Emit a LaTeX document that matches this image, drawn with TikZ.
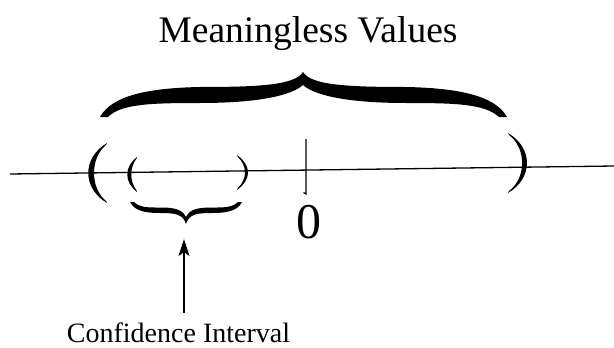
\documentclass[tikz,border=0pt]{standalone}
\usepackage{fontspec}
\newfontfamily\timesface{Liberation Serif}
\usetikzlibrary{arrows.meta}
\tikzset{
  axisline/.style={line width=1.3pt},
  glyphfill/.style={fill=black,draw=none},
  labeltext/.style={inner sep=0pt,anchor=base},
  pointer/.style={line width=1.3pt,-{Stealth[length=17pt,width=11pt,inset=4pt]}},
}
\begin{document}
\begin{tikzpicture}[x=1pt,y=-1pt]
\useasboundingbox (0,0) rectangle (614,348);
% title
\node[labeltext,font=\timesface\fontsize{37.5}{40}\selectfont] (title) at (308,42.5) {Meaningless Values};
% axis
\coordinate (axL) at (10,174);
\coordinate (axR) at (614,166);
\draw[axisline] (axL) -- (axR);
% big brace (tip up)
\fill[glyphfill] (100,117) .. controls (112,95) and (150,88) .. (200,87)
  .. controls (260,87) and (295,85) .. (303,72)
  .. controls (311,85) and (346,87) .. (406,87)
  .. controls (456,88) and (495,95) .. (507,117)
  -- (499,117)
  .. controls (485,104) and (456,103) .. (406,103)
  .. controls (346,103) and (314,95) .. (303,85)
  .. controls (292,95) and (260,103) .. (200,103)
  .. controls (150,103) and (121,104) .. (108,117) -- cycle;
% parentheses
\fill[glyphfill] (107,143) .. controls (82,158) and (82,188) .. (107,203)
  -- (106,201) .. controls (90,188) and (90,158) .. (106,145) -- cycle;
\fill[glyphfill] (137,157) .. controls (124,167) and (124,182) .. (137,192)
  -- (136.5,190.5) .. controls (129.5,181) and (129.5,168) .. (136.5,158.5) -- cycle;
\fill[glyphfill] (237,155) .. controls (251.7,166) and (251.7,179) .. (237,190)
  -- (237.5,188.5) .. controls (247.5,179) and (247.5,166) .. (237.5,156.5) -- cycle;
\fill[glyphfill] (508,133) .. controls (533.3,148) and (533.3,178) .. (508,193)
  -- (509,191) .. controls (526.5,178) and (526.5,148) .. (509,135) -- cycle;
% tick at zero
\coordinate (tickT) at (306,139);
\coordinate (tickB) at (306,194);
\draw[line width=1.2pt] (tickT) -- (tickB) -- ++(-2.5,-1.5);
\node[labeltext,font=\timesface\fontsize{50}{52}\selectfont] (zero) at (308.5,238) {0};
% small brace (tip down)
\fill[glyphfill] (130,202) .. controls (135,212) and (148,213) .. (160,213)
  .. controls (175,213) and (183,214) .. (186,224)
  .. controls (189,214) and (197,213) .. (212,213)
  .. controls (224,213) and (237,212) .. (242,202)
  -- (238,202)
  .. controls (232,208) and (222,207.5) .. (212,207.5)
  .. controls (198,207.5) and (190,209) .. (186,217)
  .. controls (182,209) and (174,207.5) .. (160,207.5)
  .. controls (150,207.5) and (140,208) .. (134,202) -- cycle;
\coordinate (citip) at (184,239);
\coordinate (cistart) at (184,313);
\draw[pointer] (cistart) -- (citip);
\node[labeltext,font=\timesface\fontsize{28}{30}\selectfont] (ci) at (178.5,342) {Confidence Interval};
\end{tikzpicture}
\end{document}
